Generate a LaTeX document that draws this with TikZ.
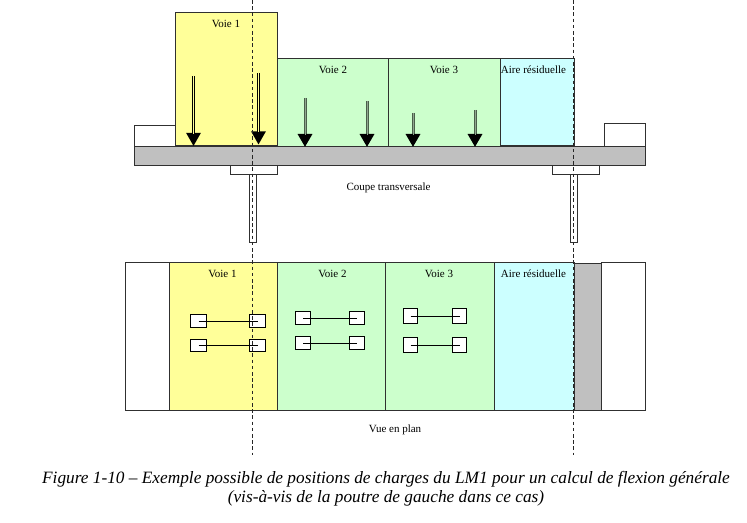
\documentclass[tikz,border=0pt]{standalone}
\usepackage{fontspec}
\setmainfont{Liberation Serif}
\usetikzlibrary{arrows.meta,calc}
\definecolor{laneA}{HTML}{FFFF99}
\definecolor{laneB}{HTML}{CCFFCC}
\definecolor{laneC}{HTML}{CCFFFF}
\definecolor{deck}{HTML}{C0C0C0}
\definecolor{ink}{HTML}{303030}
\definecolor{shaftdark}{HTML}{4A5F4A}
\definecolor{shaftlight}{HTML}{8FA88F}
\newcommand{\rbox}[6]{%
  \pgfmathsetmacro{\rw}{#4-#2}\pgfmathsetmacro{\rh}{#5-#3}%
  \pgfmathsetmacro{\rx}{(#2+#4)/2}\pgfmathsetmacro{\ry}{(#3+#5)/2}%
  \node[panel,#6,minimum width=\rw bp,minimum height=\rh bp] (#1) at (\rx,\ry) {};}
\newcommand{\loadarrow}[6]{% name, x, y start, y tip, style, inner colour
  \coordinate (#1s) at (#2,#3);
  \coordinate (#1t) at (#2,#4);
  \coordinate (#1m) at ($(#1t)+(0,-12)$);
  \draw[#5] (#1s) -- (#1t);
  \draw[line width=.7bp,#6] (#1s) -- (#1m);}
\tikzset{
  panel/.style={draw=ink,line width=1bp,inner sep=0pt,outer sep=0pt,fill=white},
  wheel/.style={panel,draw=black},
  lbl/.style={font=\fontsize{11bp}{12bp}\selectfont,inner sep=0pt,text=black},
  captxt/.style={font=\fontsize{17.3bp}{19bp}\selectfont\itshape,inner sep=0pt,text=black},
  axle/.style={black,line width=1bp},
  centre/.style={black!85,line width=.8bp,dash pattern=on 3.6bp off 2.6bp},
  tallarrow/.style={black,line width=2.4bp,-{Triangle[width=14bp,length=13bp,black]}},
  shortarrow/.style={shaftdark,line width=3bp,-{Triangle[width=14bp,length=13bp,black]}}
}
\begin{document}
\begin{tikzpicture}[x=1bp,y=-1bp]
\useasboundingbox[fill=white] (0,0) rectangle (747,523);
% --- cross section
\rbox{kerbL}{134.5}{125.5}{175.5}{146.5}{}
\rbox{kerbR}{604.5}{123.5}{645.5}{146.5}{}
\rbox{voieA}{175.5}{12.5}{277.5}{145.5}{fill=laneA}
\rbox{voieB}{277.5}{58.5}{388.5}{146.5}{fill=laneB}
\rbox{voieC}{388.5}{58.5}{500.5}{146.5}{fill=laneB}
\rbox{aire}{500.5}{58.5}{574.5}{145.5}{fill=laneC}
\rbox{pileL}{249.5}{174.5}{256.5}{242.5}{}
\rbox{pileR}{570.5}{174.5}{577.5}{242.5}{}
\rbox{bearL}{230.5}{165.5}{277.5}{174.5}{}
\rbox{bearR}{552.5}{165.5}{599.5}{174.5}{}
\rbox{tablier}{134.5}{146.5}{645.5}{165.5}{fill=deck}
\loadarrow{a1}{193.5}{76}{146}{tallarrow}{laneA}
\loadarrow{a2}{258.5}{73}{144.5}{tallarrow}{laneA}
\loadarrow{a3}{305}{98}{147}{shortarrow}{shaftlight}
\loadarrow{a4}{367}{101}{147}{shortarrow}{shaftlight}
\loadarrow{a5}{413}{113}{147}{shortarrow}{shaftlight}
\loadarrow{a6}{475}{110}{147}{shortarrow}{shaftlight}
\node[lbl] (t1) at (226,23.5) {Voie 1};
\node[lbl] (t2) at (333,70) {Voie 2};
\node[lbl] (t3) at (444,70) {Voie 3};
\node[lbl] (t4) at (533.5,70) {Aire résiduelle};
\node[lbl] (t5) at (388.5,188) {Coupe transversale};
% --- plan view
\rbox{planL}{125.5}{262.5}{169.5}{410.5}{}
\rbox{planA}{169.5}{262.5}{277.5}{410.5}{fill=laneA}
\rbox{planB}{277.5}{262.5}{385.5}{410.5}{fill=laneB}
\rbox{planC}{385.5}{262.5}{494.5}{410.5}{fill=laneB}
\rbox{planD}{494.5}{262.5}{574.5}{410.5}{fill=laneC}
\rbox{planE}{574.5}{263.5}{601.5}{410.5}{fill=deck}
\rbox{planR}{601.5}{262.5}{645.5}{410.5}{}
\rbox{w1}{190.5}{314.5}{206.5}{327.5}{wheel}
\rbox{w2}{249.5}{314.5}{265.5}{327.5}{wheel}
\rbox{w3}{190.5}{339.5}{206.5}{351.5}{wheel}
\rbox{w4}{249.5}{339.5}{265.5}{351.5}{wheel}
\rbox{w5}{295.5}{311.5}{310.5}{324.5}{wheel}
\rbox{w6}{349.5}{311.5}{364.5}{324.5}{wheel}
\rbox{w7}{295.5}{336.5}{310.5}{349.5}{wheel}
\rbox{w8}{349.5}{336.5}{364.5}{349.5}{wheel}
\rbox{w9}{403.5}{308.5}{417.5}{323.5}{wheel}
\rbox{w10}{452.5}{308.5}{466.5}{323.5}{wheel}
\rbox{w11}{403.5}{337.5}{417.5}{352.5}{wheel}
\rbox{w12}{452.5}{337.5}{466.5}{352.5}{wheel}
\draw[axle] (w1.center) -- (w2.center);
\draw[axle] (w3.center) -- (w4.center);
\draw[axle] (w5.center) -- (w6.center);
\draw[axle] (w7.center) -- (w8.center);
\draw[axle] (w9.center) -- (w10.center);
\draw[axle] (w11.center) -- (w12.center);
\node[lbl] (p1) at (222.5,273.5) {Voie 1};
\node[lbl] (p2) at (332.5,273.5) {Voie 2};
\node[lbl] (p3) at (439,273.5) {Voie 3};
\node[lbl] (p4) at (533.5,273.5) {Aire résiduelle};
\node[lbl] (p5) at (395,429.5) {Vue en plan};
% --- girder axes
\coordinate (c1a) at (252.5,0);
\coordinate (c1b) at (252.5,455);
\coordinate (c2a) at (573.5,0);
\coordinate (c2b) at (573.5,455);
\draw[centre] (c1a) -- (c1b);
\draw[centre] (c2a) -- (c2b);
% --- caption
\node[captxt] (f1) at (386,479.5) {Figure 1-10 – Exemple possible de positions de charges du LM1 pour un calcul de flexion générale};
\node[captxt] (f2) at (386,498) {(vis-à-vis de la poutre de gauche dans ce cas)};
\end{tikzpicture}
\end{document}
